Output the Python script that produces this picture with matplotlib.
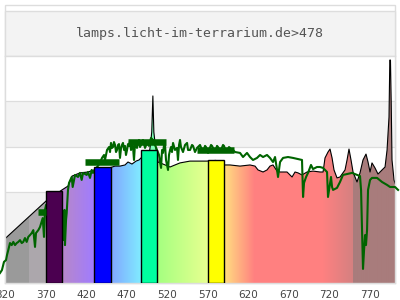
import numpy as np
import matplotlib
matplotlib.use("Agg")
import matplotlib.pyplot as plt
from matplotlib.patches import Rectangle, Polygon

title = "lamps.licht-im-terrarium.de>478"
xticks = [320, 370, 420, 470, 520, 570, 620, 670, 720, 770]

# lamp spectrum outline (nm, relative)
spec_nm = [320, 370.4, 390.1, 397.5, 402.5, 412.3, 422.2, 429.6, 440, 449.4,
           455.6, 461.7, 467.9, 471.6, 476.5, 481.5, 485.2, 487.7, 492, 494.7,
           497.9, 499.6, 500.9, 502.3, 503.5, 505.0, 507.0, 508.6, 514.8, 523.5,
           529.6, 535.8, 548.1, 560.5, 569.1, 580, 590.1, 597.5, 609.9, 622.2,
           628.4, 632.1, 638.3, 643.2, 646.9, 650.6, 655.6, 659.3, 667.9, 674.1,
           677.8, 681.5, 686.4, 692.6, 700.0, 708.7, 712.4, 714.8, 718.5, 721.0,
           723.5, 725.9, 729.6, 733.3, 739.5, 742.0, 744.4, 746.9, 749.4, 754.3,
           758.0, 761.7, 765.4, 767.9, 770.4, 772.8, 776.5, 780.2, 785.2, 788.9,
           791.4, 793.8, 794.8, 795.6, 796.5, 797.5, 800.0, 801.2]
spec_val = [19.6, 36.1, 41.0, 42.7, 47.1, 48.5, 48.9, 49.8, 50.5, 50.8,
            51.5, 51.5, 52.0, 53.3, 52.4, 53.7, 54.2, 55.1, 55.0, 54.0,
            57.3, 61.7, 66.5, 82.4, 66.5, 61.7, 57.3, 53.3, 52.4, 51.1,
            52.0, 52.9, 53.7, 53.7, 53.7, 54.0, 52.0, 52.0, 51.5, 52.0,
            51.5, 49.8, 48.9, 49.8, 51.5, 52.0, 49.3, 48.9, 48.9, 46.7,
            48.9, 48.5, 47.6, 48.9, 49.3, 48.9, 48.9, 55.1, 57.7, 59.0,
            55.1, 49.8, 46.3, 46.7, 49.8, 54.2, 59.0, 54.2, 48.9, 44.5,
            48.5, 54.2, 56.8, 53.3, 48.9, 52.9, 50.7, 48.0, 49.8, 51.1,
            58.6, 73.1, 98.2, 98.2, 80.0, 54.2, 45.4, 44.0]

# measured spectrum (green)
meas_nm = [313.6, 316.0, 318.5, 321.0, 322.2, 323.8, 325.9, 328.0, 330.0, 332.1,
           334.2, 336.2, 338.3, 340.4, 342.3, 344.4, 346.5, 348.5, 350.6, 352.7,
           354.7, 356.8, 358.0, 360.9, 363.0, 366.3, 367.9, 369.1, 370.4, 380,
           389, 390.7, 392.0, 393.2, 393.8, 395.1, 395.9, 397.5, 398.8, 402.1,
           403.3, 406.2, 409.9, 412.3, 414.4, 416.1, 420.6, 422.2, 424.7, 426.8,
           428.4,
           437.0, 439.5, 442.0, 443.2, 445.7, 448.2, 449.4, 450.6, 451.9, 453.1,
           454.3, 455.6, 456.8, 458.0, 459.3, 460.5, 461.7, 463.0, 464.2, 465.4,
           466.7, 467.9, 469.1, 470.4, 471.6, 472.8, 474.1, 475.3, 476.6, 477.8,
           479.0, 480.3, 481.5, 482.7, 484.0, 485.2, 486.4, 487.7, 490.1, 492.6,
           495.1, 497.5, 500.0, 502.5, 504.9, 507.4, 509.9, 511.1, 512.4, 513.6,
           514.8, 516.1, 517.3, 518.5, 519.8, 521.0, 522.2, 523.5, 524.7, 525.9,
           527.2, 529.6, 532.1, 533.3, 534.6, 535.8, 537.0, 539.5, 542.0, 544.5,
           545.7, 548.2, 550.6, 551.9, 554.3, 556.8, 560.5, 563.0, 564.2, 566.7,
           567.9, 570.4, 571.6, 574.1, 575.3, 577.8, 579.0, 581.5, 582.7, 585.2,
           586.4, 588.9, 590.1, 592.6, 593.8, 596.3, 597.5, 600.0, 601.2,
           603.7, 609.9, 613.6, 618.5, 622.2,
           625.9, 630.9, 634.6, 638.3, 643.2, 646.9, 650.6, 653.1, 655.6, 656.8,
           659.3, 663.0, 669.1, 675.3, 681.5, 686.4, 687.7, 688.9, 691.4, 693.8,
           697.5, 700.0, 704.9, 708.6, 712.4, 717.3, 718.5, 719.8, 722.2, 723.5,
           724.7, 729.6, 733.3, 737.0, 742.0, 748.2, 754.3, 758.0, 759.3, 760.5,
           761.7, 763.0, 764.2, 765.4, 766.7, 767.9, 770.4, 772.8, 779.0, 785.2,
           791.4, 795.1, 801.2, 805.0]
meas_val = [4.4, 5.7, 9.3, 10.1, 12.3, 14.5, 17.6, 16.7, 18.1, 16.7,
            17.6, 18.1, 18.9, 17.6, 18.1, 19.8, 18.1, 20.3, 21.1, 22.0,
            23.3, 15.9, 22.0, 23.3, 24.7, 28.6, 20.3, 32.2, 34.4, 34.0,
            31.0, 30.0, 18.9, 32.2, 16.7, 27.8, 30.8, 41.0, 44.1, 46.7,
            42.3, 47.6, 46.7, 48.5, 45.4, 48.5, 47.6, 48.9, 46.3, 49.8,
            48.5,
            52.9, 55.1, 56.4, 54.2, 58.6, 59.9, 57.7, 61.7, 59.5, 59.9,
            62.1, 60.8, 57.7, 58.6, 60.8, 61.2, 55.1, 59.5, 60.8, 61.7,
            58.6, 60.4, 56.4, 58.6, 61.2, 60.4, 62.6, 58.6, 61.7, 59.9,
            54.2, 61.7, 60.4, 59.5, 62.1, 63.0, 59.9, 60.8, 63.0, 59.5,
            61.7, 60.4, 63.9, 63.0, 60.8, 58.6, 56.4, 53.3, 50.7, 58.6,
            57.3, 60.8, 60.8, 54.2, 52.0, 49.8, 56.4, 58.6, 59.9, 57.7,
            61.7, 58.6, 59.5, 54.2, 60.8, 63.0, 59.9, 57.7, 60.8, 61.7,
            58.6, 58.6, 60.8, 60.4, 57.7, 59.5, 60.8, 58.6, 57.7, 60.4,
            59.9, 57.3, 58.6, 60.8, 60.4, 58.6, 57.7, 60.4, 59.9, 58.1,
            58.6, 60.8, 60.4, 57.7, 58.1, 59.9, 59.5, 57.7, 58.6,
            57.7, 57.3, 55.5, 57.3, 55.5,
            54.2, 55.1, 56.4, 55.5, 56.4, 55.1, 53.3, 55.5, 49.8, 46.7,
            53.3, 55.1, 55.5, 55.1, 54.6, 54.2, 37.9, 44.1, 46.7, 48.5,
            52.0, 50.2, 51.1, 51.1, 50.7, 48.9, 37.9, 41.0, 46.7, 42.3,
            41.0, 41.9, 44.5, 47.6, 48.0, 48.5, 47.6, 47.1, 41.0, 23.3,
            6.2, 14.5, 21.1, 16.7, 23.3, 41.0, 45.4, 46.3, 46.3, 44.5,
            43.2, 42.3, 42.3, 41.0]

# colour bars
band_lo = [370, 430, 488, 570]
band_hi = [390, 450, 508, 590]
band_val = [40.7, 51.1, 58.6, 54.2]
band_color = ['#4b0050', '#0000ff', '#00ffa0', '#ffff00']

# thick average segments
seg_lo = [360.5, 418.5, 471.6, 557.0]
seg_hi = [370.4, 460.5, 518.5, 602.0]
seg_val = [31.3, 53.1, 62.0, 58.8]

# gradient colour segments (start nm, end nm, start colour, end colour)
grad = [(320, 350, '#9a9a9a', '#9a9a9a'),
        (350, 370, '#aca7ac', '#aca7ac'),
        (370, 390, '#4b0050', '#4b0050'),
        (390, 430, '#b888c8', '#a07cff'),
        (430, 450, '#0000ff', '#0000ff'),
        (450, 488, '#80a4ff', '#80ecff'),
        (488, 508, '#80ffb8', '#80ffb8'),
        (508, 570, '#a4ff80', '#e8ff90'),
        (570, 590, '#ffff00', '#ffff00'),
        (590, 628, '#ffe080', '#ff8080'),
        (628, 712, '#ff8080', '#ff8080'),
        (712, 750, '#ff8080', '#d48080'),
        (750, 802, '#a87c7c', '#a87c7c')]

XMIN, XMAX = 320, 801.2

fig = plt.figure(figsize=(4, 3), dpi=100)
fig.patch.set_facecolor('white')
W, H = 400.0, 300.0
fig.add_artist(Rectangle((5 / W, (H - 283) / H), 390 / W, 278 / H,
                         transform=fig.transFigure, facecolor='white',
                         edgecolor='#dddddd', linewidth=1, zorder=0))
fig.add_artist(Rectangle((5 / W, (H - 56) / H), 390 / W, 45 / H,
                         transform=fig.transFigure, facecolor='#f3f3f3',
                         edgecolor='#dddddd', linewidth=1, zorder=0))
fig.text(0.5, (H - 33) / H, title, ha='center', va='center',
         family='DejaVu Sans Mono', fontsize=9.5, color='#555555')

ax = fig.add_axes([5.2 / W, (H - 283) / H, 389.8 / W, 227 / H])
ax.set_xlim(XMIN, XMAX)
ax.set_ylim(0, 100)
ax.set_facecolor('white')
for lo, hi in [(60, 80), (20, 40)]:
    ax.axhspan(lo, hi, color='#f3f3f3', zorder=0, linewidth=0)
for g in [20, 40, 60, 80]:
    ax.axhline(g, color='#dddddd', linewidth=0.9, zorder=0.5)

# gradient image clipped by the spectrum
N = 2400
xs = np.linspace(XMIN, XMAX, N)
img = np.ones((1, N, 3))
for s, e, c0, c1 in grad:
    m = (xs >= s) & (xs <= e)
    t = (xs[m] - s) / (e - s)
    a = np.array(matplotlib.colors.to_rgb(c0))
    b = np.array(matplotlib.colors.to_rgb(c1))
    img[0, m, :] = a[None, :] * (1 - t[:, None]) + b[None, :] * t[:, None]
im = ax.imshow(img, extent=(XMIN, XMAX, 0, 100), aspect='auto',
               interpolation='nearest', zorder=1)
verts = np.column_stack([np.r_[spec_nm[0], spec_nm, spec_nm[-1]],
                         np.r_[0, spec_val, 0]])
poly = Polygon(verts, closed=True, facecolor='none', edgecolor='none',
               transform=ax.transData)
ax.add_patch(poly)
im.set_clip_path(poly)

ax.plot(spec_nm, spec_val, color='black', linewidth=0.8, zorder=2)
ax.plot(meas_nm, meas_val, color='#006400', linewidth=1.5, zorder=3,
        clip_on=False)
ax.bar(band_lo, band_val, width=np.array(band_hi) - np.array(band_lo),
       align='edge', color=band_color, edgecolor='black', linewidth=1.0,
       zorder=4)
ax.hlines(seg_val, seg_lo, seg_hi, colors='#006400', linewidth=4.7,
          zorder=5)

for sp in ax.spines.values():
    sp.set_color('#dddddd')
    sp.set_linewidth(1)
ax.set_xticks(xticks)
ax.set_yticks([])
ax.tick_params(axis='x', length=0, pad=5, labelsize=7.5,
               labelcolor='#444444')

fig.savefig('out.png', dpi=100)
